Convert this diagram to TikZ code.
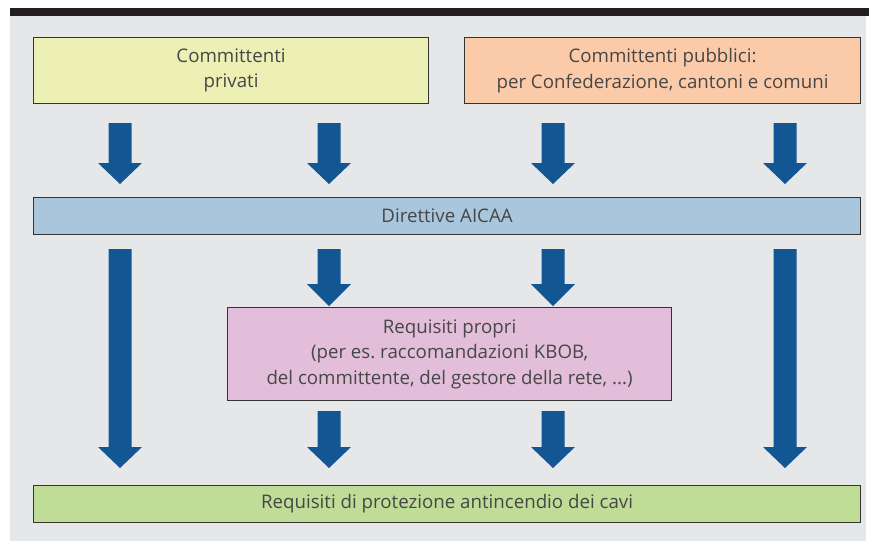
\documentclass[tikz,border=0pt]{standalone}
\usepackage{fontspec}
\setmainfont{Open Sans}
\frenchspacing
\begin{document}
\begin{tikzpicture}[x=1pt,y=-1pt,
  box/.style={draw=black!80, line width=1.1pt, inner sep=0pt, anchor=north west, align=center, text=black!72, font=\fontsize{18.7}{25.5}\selectfont},
  barrow/.style={fill=arrowblue, draw=none}]
\definecolor{bgrey}{HTML}{E6E7E9}
\definecolor{topbar}{HTML}{231F20}
\definecolor{cyellow}{HTML}{EDF0B4}
\definecolor{corange}{HTML}{FBCBA9}
\definecolor{cblue}{HTML}{A9C6DC}
\definecolor{cpink}{HTML}{E3BEDB}
\definecolor{cgreen}{HTML}{BFDD96}
\definecolor{arrowblue}{HTML}{135694}
\useasboundingbox (0,0) rectangle (869,542);
\fill[white] (0,0) rectangle (869,542);
\fill[bgrey] (10,16) rectangle (866,541);
\fill[topbar] (10,8) rectangle (869,16);
% boxes
\node[box, fill=cyellow, minimum width=395pt, minimum height=66pt] (priv) at (33,37) {Committenti\\privati};
\node[box, fill=corange, minimum width=396pt, minimum height=66pt] (pubb) at (464,37) {Committenti pubblici:\\per Confederazione, cantoni e comuni};
\node[box, fill=cblue, minimum width=827pt, minimum height=37pt] (dir) at (33,197) {Direttive AICAA};
\node[box, fill=cpink, minimum width=444pt, minimum height=93pt] (req) at (227,307) {Requisiti propri\\(per es. raccomandazioni KBOB,\\del committente, del gestore della rete, ...)};
\node[box, fill=cgreen, minimum width=827pt, minimum height=37pt] (prot) at (33,485) {Requisiti di protezione antincendio dei cavi};
% block arrows: x, top, head start, tip
\newcommand{\blkarrow}[4]{\fill[barrow] (#1-11.5,#2) -- (#1+11.5,#2) -- (#1+11.5,#3) -- (#1+22,#3) -- (#1,#4) -- (#1-22,#3) -- (#1-11.5,#3) -- cycle;}
\foreach \x in {120,329,553,785} {\blkarrow{\x}{123}{163}{184}}
\foreach \x in {120,785} {\blkarrow{\x}{249}{447}{468}}
\foreach \x in {329,553} {\blkarrow{\x}{249}{284}{306}}
\foreach \x in {329,553} {\blkarrow{\x}{411}{447}{468}}
\end{tikzpicture}
\end{document}
